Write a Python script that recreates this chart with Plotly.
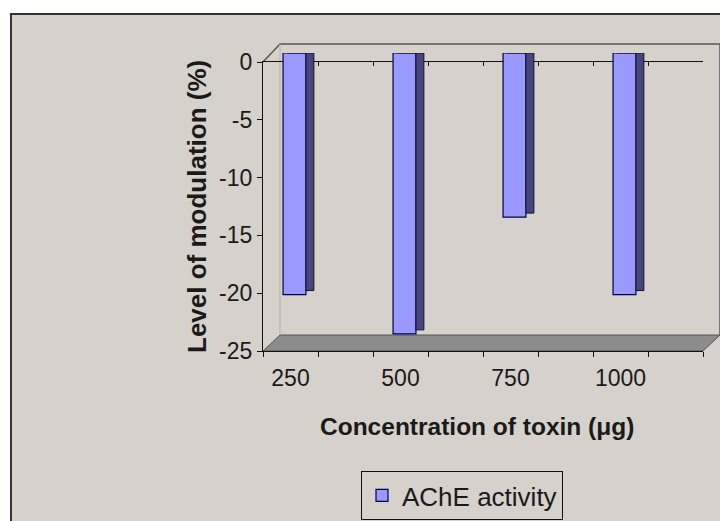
import plotly.graph_objects as go

# ---- data ----
concentrations = [250, 500, 750, 1000]
tick_labels = ["250", "500", "750", "1000"]
ache_activity = [-20.9, -24.3, -14.2, -20.9]
series_name = "AChE activity"
y_ticks = [0, -5, -10, -15, -20, -25]

# ---- geometry helpers (screen pixel -> paper); page body has an 8px margin ----
OFF = 8
W, H = 728, 521
ML, MR, MT, MB = 255, 13, 32, 178
PW, PH = W - ML - MR, H - MT - MB
def px(X):
    return (X - OFF - ML) / PW
def py(Y):
    return (H - MB - (Y - OFF)) / PH

BG = "#d6d1cb"
FRONT = "#9999ff"
SIDE = "#46467a"
TOP = "#1e1e48"
FONT = "Liberation Sans, Arial, sans-serif"

fig = go.Figure()

# front faces
fig.add_trace(go.Bar(
    x=concentrations, y=ache_activity, name=series_name,
    xaxis="x2", yaxis="y2", width=52, offset=-26,
    marker=dict(color=FRONT, line=dict(color="#000050", width=1.2)),
    showlegend=True,
))
# side faces (3D look)
fig.add_trace(go.Bar(
    x=concentrations, y=ache_activity, base=[0.35] * len(ache_activity),
    xaxis="x2", yaxis="y2", width=18, offset=26,
    marker=dict(color=SIDE, line=dict(color="#101030", width=1)),
    showlegend=False, hoverinfo="skip",
))
# top faces
fig.add_trace(go.Bar(
    x=concentrations, y=[0.35] * len(ache_activity), base=[0] * len(ache_activity),
    xaxis="x2", yaxis="y2", width=61, offset=-17,
    marker=dict(color=TOP, line=dict(color="#101030", width=1)),
    showlegend=False, hoverinfo="skip",
))
# invisible traces to activate the frame axes
fig.add_trace(go.Scatter(x=[None], y=[None], xaxis="x", yaxis="y", showlegend=False, hoverinfo="skip"))
fig.add_trace(go.Scatter(x=[None], y=[None], xaxis="x3", yaxis="y", showlegend=False, hoverinfo="skip"))
fig.add_trace(go.Scatter(x=[None], y=[None], xaxis="x4", yaxis="y", showlegend=False, hoverinfo="skip"))

xr = [187.5, 1187.5]
shapes = [
    # chart area background with border
    dict(type="rect", xref="paper", yref="paper",
         x0=px(11), x1=px(760), y0=py(14), y1=py(560),
         fillcolor=BG, line=dict(color="#333333", width=2), layer="below"),
    # floor
    dict(type="path", xref="paper", yref="paper",
         path=f"M {px(263)},{py(351)} L {px(280)},{py(335)} L {px(720)},{py(335)} L {px(703)},{py(351)} Z",
         fillcolor="#8c8c8c", line=dict(color="#555555", width=1), layer="below"),
    # back wall outline
    dict(type="path", xref="paper", yref="paper",
         path=f"M {px(263)},{py(62)} L {px(280)},{py(44)} L {px(720)},{py(44)} L {px(720)},{py(335)}",
         line=dict(color="#555555", width=1.5), layer="below"),
    dict(type="line", xref="paper", yref="paper",
         x0=px(280), x1=px(280), y0=py(44), y1=py(335),
         line=dict(color="#b8b3ad", width=1), layer="below"),
]

fig.update_layout(
    width=W, height=H,
    margin=dict(l=ML, r=MR, t=MT, b=MB, autoexpand=False),
    paper_bgcolor="white", plot_bgcolor="rgba(0,0,0,0)",
    barmode="overlay",
    font=dict(family=FONT, color="#1a1a1a"),
    shapes=shapes,
    xaxis=dict(domain=[0, 440 / PW], range=xr, anchor="y",
               tickmode="array", tickvals=concentrations, ticktext=tick_labels,
               ticks="", showgrid=False, zeroline=False, ticklabelstandoff=6,
               showline=True, linecolor="#111111", linewidth=1.2,
               tickfont=dict(size=23, family=FONT, color="#1a1a1a")),
    xaxis4=dict(overlaying="x", anchor="y", side="bottom", range=xr,
                tickmode="linear", tick0=187.5, dtick=125, ticks="outside", ticklen=5,
                tickcolor="#111111", showticklabels=False, showgrid=False, zeroline=False,
                showline=False),
    xaxis3=dict(overlaying="x", anchor="y", side="top", range=xr,
                tickmode="linear", tick0=187.5, dtick=125, ticks="inside", ticklen=4,
                tickcolor="#111111", showticklabels=False, showgrid=False, zeroline=False,
                showline=True, linecolor="#111111", linewidth=1.2),
    yaxis=dict(domain=[0, 289 / PH], range=[-25, 0], anchor="x",
               tickmode="array", tickvals=y_ticks, ticktext=[str(v) for v in y_ticks],
               ticks="outside", ticklen=5, tickcolor="#111111",
               showgrid=False, zeroline=False, showline=True, linecolor="#111111", linewidth=1.2,
               tickfont=dict(size=23, family=FONT, color="#1a1a1a")),
    xaxis2=dict(domain=[4 / PW, 444 / PW], range=xr, anchor="y2", visible=False),
    yaxis2=dict(domain=[9 / PH, 298 / PH], range=[-25, 0], anchor="x2", visible=False),
    legend=dict(xref="container", yref="container", x=(361 - OFF) / W, y=1 - (471 - OFF) / H,
                xanchor="left", yanchor="top", bgcolor=BG, bordercolor="#111111",
                borderwidth=1, font=dict(size=26, family=FONT, color="#1a1a1a"),
                itemwidth=30),
    annotations=[
        dict(text="<b>Level of modulation (%)</b>", textangle=-90, xref="paper", yref="paper",
             x=px(197), y=py(207), showarrow=False, xanchor="center", yanchor="middle",
             font=dict(size=26, family=FONT, color="#1a1a1a")),
        dict(text="<b>Concentration of toxin (μg)</b>", xref="paper", yref="paper",
             x=px(477), y=py(426), showarrow=False, xanchor="center", yanchor="middle",
             font=dict(size=24.5, family=FONT, color="#1a1a1a")),
    ],
)

fig.write_html("out.html")
